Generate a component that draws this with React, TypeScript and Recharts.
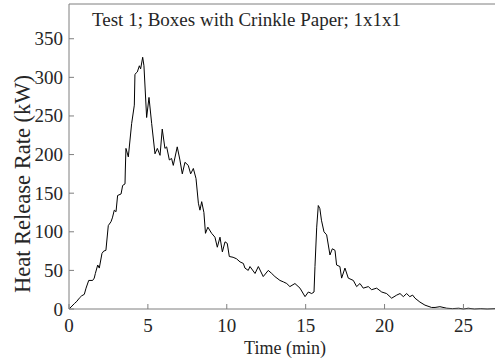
import { LineChart, Line, XAxis, YAxis, Label } from 'recharts'

const times = [
  0, 0.13, 0.34, 0.5, 0.65, 0.8, 0.97, 1.08, 1.25, 1.5, 1.6, 1.67, 1.82, 1.92, 2.09, 2.2, 2.34, 2.49,
  2.66, 2.75, 2.87, 2.98, 3.08, 3.3, 3.4, 3.55, 3.57, 3.61, 3.76, 3.97, 4.14, 4.18, 4.33, 4.46, 4.54,
  4.67, 4.75, 4.92, 5.07, 5.24, 5.45, 5.6, 5.77, 5.91, 6.08, 6.19, 6.36, 6.5, 6.61, 6.86, 7.03, 7.18,
  7.35, 7.56, 7.71, 7.88, 8.05, 8.2, 8.3, 8.41, 8.55, 8.65, 8.8, 9.04, 9.25, 9.4, 9.57, 9.72, 9.89,
  10.03, 10.16, 10.4, 10.62, 10.84, 11.05, 11.15, 11.36, 11.47, 11.79, 12.0, 12.31, 12.63, 12.85,
  13.05, 13.37, 13.6, 13.8, 14.0, 14.32, 14.64, 14.96, 15.17, 15.38, 15.53, 15.59, 15.7, 15.8, 15.9,
  16.0, 16.16, 16.33, 16.54, 16.69, 16.86, 16.96, 17.17, 17.28, 17.49, 17.7, 18.02, 18.23, 18.44,
  18.65, 18.97, 19.18, 19.5, 19.82, 20.13, 20.45, 20.77, 20.98, 21.19, 21.4, 21.6, 21.78, 21.93,
  22.24, 22.56, 22.98, 23.2, 23.51, 23.94, 24.3, 24.7, 25.0, 25.3, 25.7, 26.1, 26.5, 27.0,
]

const heatRelease = [
  0, 2.6, 7, 10, 14, 17, 19, 27, 37, 37, 40, 46, 57, 53, 72, 75, 76, 108,
  113, 118, 128, 126, 147, 149, 160, 162, 180, 208, 197, 240, 264, 304, 307, 315, 311,
  326, 315, 248, 274, 240, 201, 208, 199, 233, 208, 210, 193, 195, 186, 210, 193, 175,
  190, 186, 175, 182, 169, 137, 128, 139, 125, 98, 106, 98, 93, 80, 93, 74, 87,
  85, 68, 67, 65, 61, 59, 53, 50, 55, 46, 55, 42, 50, 46,
  42, 37, 35, 33, 29, 33, 27, 16, 22, 20, 22, 55, 106, 134, 130,
  115, 100, 96, 70, 78, 76, 57, 55, 40, 53, 40, 37, 29, 33,
  27, 29, 25, 27, 22, 20, 14, 18, 20, 16, 20, 16, 18, 14,
  9, 5, 2, 2, 3, 1, 0.5, 1, 0, 1, 0, 0.5, 0, 0.5,
]

const xTicks = [0, 5, 10, 15, 20, 25]
const yTicks = [0, 50, 100, 150, 200, 250, 300, 350]

const data = times.map((t, i) => ({ t, hrr: heatRelease[i] }))

const font = '"Liberation Serif", "Times New Roman", serif'
const axisColor = '#7f7f7f'
const textColor = '#262626'
const textStyle = { fontFamily: font, fill: textColor }

const XTick = ({ x, y, payload }: any) => (
  <text x={x} y={y + 13} textAnchor="middle" fontSize={19} style={textStyle}>
    {payload.value}
  </text>
)

const YTick = ({ x, y, payload }: any) => (
  <text x={x} y={y} textAnchor="end" dominantBaseline="central" fontSize={19} style={textStyle}>
    {payload.value}
  </text>
)

export default function App() {
  return (
    <div style={{ position: 'absolute', left: 0, top: 0, fontFamily: font }}>
      <LineChart width={495} height={364} data={data} margin={{ top: 3, right: 0, bottom: 0, left: 0 }}>
        <XAxis
          dataKey="t"
          type="number"
          domain={[0, 27]}
          ticks={xTicks}
          height={55}
          stroke={axisColor}
          tickSize={-5}
          tickMargin={15}
          tick={XTick}
        >
          <Label
            content={() => (
              <text x={285} y={354} textAnchor="middle" fontSize={18} style={textStyle}>
                Time (min)
              </text>
            )}
          />
        </XAxis>
        <XAxis
          xAxisId="top"
          orientation="top"
          dataKey="t"
          type="number"
          domain={[0, 27]}
          ticks={xTicks}
          height={1}
          stroke={axisColor}
          tickSize={-5}
          tick={false}
        >
          <Label
            content={() => (
              <text x={92} y={26} fontSize={19} style={textStyle}>
                Test 1; Boxes with Crinkle Paper; 1x1x1
              </text>
            )}
          />
        </XAxis>
        <YAxis
          type="number"
          domain={[0, 395]}
          ticks={yTicks}
          width={69}
          stroke={axisColor}
          tickSize={-5}
          tickMargin={11}
          tick={YTick}
        >
          <Label
            content={() => (
              <text
                x={22}
                y={184}
                transform="rotate(-90 22 184)"
                textAnchor="middle"
                dominantBaseline="central"
                fontSize={22.5}
                style={textStyle}
              >
                Heat Release Rate (kW)
              </text>
            )}
          />
        </YAxis>
        <Line
          type="linear"
          dataKey="hrr"
          stroke="#000"
          strokeWidth={1}
          dot={false}
          isAnimationActive={false}
        />
      </LineChart>
    </div>
  )
}
